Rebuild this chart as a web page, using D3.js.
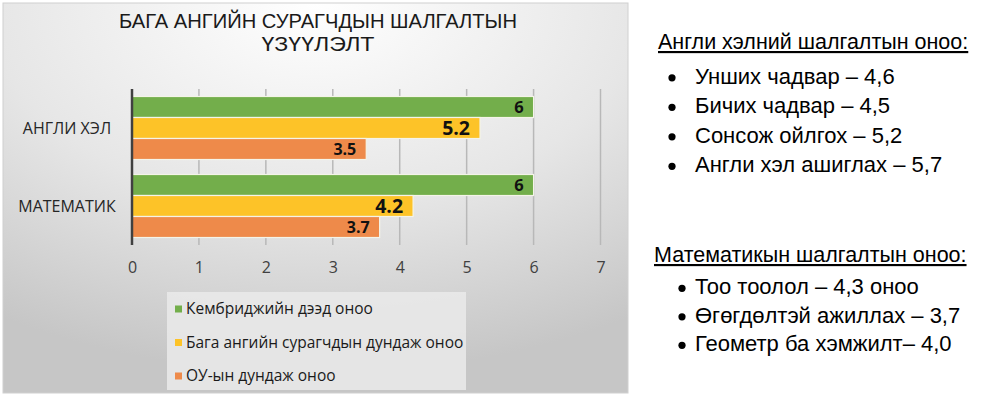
<!DOCTYPE html>
<html>
<head>
<meta charset="utf-8">
<script src="https://cdn.jsdelivr.net/npm/d3@7"></script>
<style>
  html, body { margin: 0; padding: 0; background: #fff; }
  svg { display: block; }
</style>
</head>
<body>
<div id="chart"></div>
<script>
// chart data
const categories = ["АНГЛИ ХЭЛ", "МАТЕМАТИК"];
const seriesNames = ["Кембриджийн дээд оноо", "Бага ангийн сурагчдын дундаж оноо", "ОУ-ын дундаж оноо"];
const cambridge = [6, 6];
const primaryAvg = [5.2, 4.2];
const intlAvg = [3.5, 3.7];
const xTicks = [0, 1, 2, 3, 4, 5, 6, 7];
const titleLines = ["БАГА АНГИЙН СУРАГЧДЫН ШАЛГАЛТЫН", "ҮЗҮҮЛЭЛТ"];

// notes on the right
const englishHead = "Англи хэлний шалгалтын оноо:";
const englishItems = ["Унших чадвар – 4,6", "Бичих чадвар – 4,5", "Сонсож ойлгох – 5,2", "Англи хэл ашиглах – 5,7"];
const mathHead = "Математикын шалгалтын оноо:";
const mathItems = ["Тоо тоолол – 4,3 оноо", "Өгөгдөлтэй ажиллах – 3,7", "Геометр ба хэмжилт– 4,0"];

const colors = ["#73ae4b", "#fdc328", "#ee8a4a"];
const labelSize = [16.5, 19.5, 16];
const values = [cambridge, primaryAvg, intlAvg];

const W = 1004, H = 395;
const svg = d3.select("#chart").append("svg").attr("width", W).attr("height", H);

// panel background: white at top centre fading to grey
const defs = svg.append("defs");
const grad = defs.append("radialGradient").attr("id", "bg")
  .attr("cx", "50%").attr("cy", "0%").attr("r", "95%")
  .attr("fx", "50%").attr("fy", "0%");
grad.append("stop").attr("offset", "0%").attr("stop-color", "#ffffff");
grad.append("stop").attr("offset", "55%").attr("stop-color", "#e6e6e6");
grad.append("stop").attr("offset", "100%").attr("stop-color", "#c6c6c6");

svg.append("rect")
  .attr("x", 3).attr("y", 3).attr("width", 625).attr("height", 390)
  .attr("fill", "url(#bg)").attr("stroke", "#d0d0d0").attr("stroke-width", 1);

const font = "'Open Sans', 'DejaVu Sans', sans-serif";

// title, condensed like the original
svg.append("g").selectAll("text").data(titleLines).join("text")
  .attr("x", 318).attr("y", (d, i) => 28 + i * 22.5)
  .attr("text-anchor", "middle")
  .attr("fill", "#1a1a1a")
  .style("font-family", "'Liberation Sans', Arial, sans-serif")
  .style("font-size", "20px")
  .attr("textLength", (d, i) => (i === 0 ? 398 : 113))
  .attr("lengthAdjust", "spacingAndGlyphs")
  .text((d) => d);

const m = { top: 89, bottom: 245, left: 132 };
const x = d3.scaleLinear().domain([0, 7]).range([m.left, 600.5]);
const y0 = d3.scaleBand().domain(categories).range([m.top, m.bottom]);
const y1 = d3.scaleBand().domain(d3.range(seriesNames.length))
  .range([7.5, y0.bandwidth() - 7.5]);

// gridlines
svg.append("g").selectAll("line").data(xTicks.slice(1)).join("line")
  .attr("x1", (d) => x(d)).attr("x2", (d) => x(d))
  .attr("y1", m.top).attr("y2", m.bottom)
  .attr("stroke", "#b8b8b8").attr("stroke-width", 1.5);

// x axis labels
svg.append("g")
  .attr("transform", `translate(0,${m.bottom})`)
  .call(d3.axisBottom(x).tickValues(xTicks).tickFormat(d3.format("d")).tickSize(0).tickPadding(17))
  .call((g) => g.select(".domain").remove())
  .selectAll("text")
  .attr("fill", "#404040")
  .style("font-family", font)
  .style("font-size", "16px");

// bars
const groups = svg.append("g").selectAll("g").data(categories).join("g")
  .attr("transform", (c) => `translate(0,${y0(c)})`);

groups.each(function (c, ci) {
  const g = d3.select(this);
  seriesNames.forEach((s, si) => {
    const v = values[si][ci];
    g.append("rect")
      .attr("x", x(0)).attr("y", y1(si))
      .attr("width", x(v) - x(0)).attr("height", y1.bandwidth())
      .attr("fill", colors[si])
      .attr("stroke", "#f4f4e8").attr("stroke-width", 1.2);
    g.append("text")
      .attr("x", x(v) - 10).attr("y", y1(si) + y1.bandwidth() / 2)
      .attr("dy", "0.36em")
      .attr("text-anchor", "end")
      .attr("fill", "#111")
      .style("font-family", font)
      .style("font-weight", 700)
      .style("font-size", labelSize[si] + "px")
      .text(String(v));
  });
});

// category labels
svg.append("g").selectAll("text").data(categories).join("text")
  .attr("x", 67).attr("y", (c) => y0(c) + y0.bandwidth() / 2)
  .attr("dy", "0.35em").attr("text-anchor", "middle")
  .attr("fill", "#262626")
  .style("font-family", font).style("font-size", "16px")
  .text((c) => c);

// vertical axis line
svg.append("line")
  .attr("x1", x(0)).attr("x2", x(0)).attr("y1", m.top).attr("y2", m.bottom)
  .attr("stroke", "#404040").attr("stroke-width", 2.5);

// legend
const lg = svg.append("g");
lg.append("rect").attr("x", 167).attr("y", 292).attr("width", 299).attr("height", 98)
  .attr("fill", "#eaeaea").attr("opacity", 0.85);
const li = lg.selectAll("g").data(seriesNames).join("g")
  .attr("transform", (d, i) => `translate(175,${309 + i * 33.5})`);
li.append("rect").attr("x", 0).attr("y", -3.5).attr("width", 7).attr("height", 7)
  .attr("fill", (d, i) => colors[i]);
li.append("text").attr("x", 11).attr("dy", "0.35em")
  .attr("fill", "#1a1a1a")
  .style("font-family", font).style("font-size", "15.5px")
  .text((d) => d);

// right-hand notes
const noteFont = "'Liberation Sans', Arial, sans-serif";
function notes(head, items, hx, hy, bx, tx, base, step) {
  const g = svg.append("g").style("font-family", noteFont).attr("fill", "#000");
  g.append("text").attr("x", hx).attr("y", hy)
    .style("font-size", "21.5px").style("text-decoration", "underline")
    .text(head);
  const it = g.selectAll("g").data(items).join("g")
    .attr("transform", (d, i) => `translate(0,${base + i * step})`);
  it.append("circle").attr("cx", bx).attr("cy", -5.7).attr("r", 3.6);
  it.append("text").attr("x", tx).style("font-size", "22px").text((d) => d);
}
notes(englishHead, englishItems, 658, 49, 672, 695, 83.5, 29.5);
notes(mathHead, mathItems, 654, 262, 682, 695, 294, 28.5);
</script>
</body>
</html>
